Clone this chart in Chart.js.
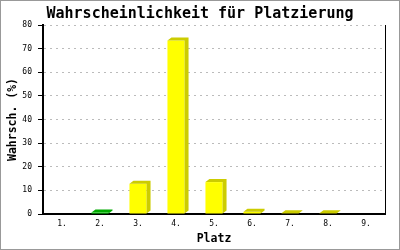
<!DOCTYPE html>
<html>
<head>
<meta charset="utf-8">
<style>
  html, body { margin: 0; padding: 0; background: #fff; }
  #wrap { width: 400px; height: 250px; }
</style>
<script src="https://cdn.jsdelivr.net/npm/chart.js@4/dist/chart.umd.min.js"></script>
</head>
<body>
<div id="wrap"><canvas id="c" width="400" height="250"></canvas></div>
<script>
// Platzierung -> Wahrscheinlichkeit in %
const platz  = ['1.', '2.', '3.', '4.', '5.', '6.', '7.', '8.', '9.'];
const wahrsch = [0, 0.6, 12.8, 73.4, 13.5, 0.9, 0.3, 0.3, 0];
const front  = ['#ffff00', '#00dd00', '#ffff00', '#ffff00', '#ffff00', '#ffff00', '#ffff00', '#ffff00', '#ffff00'];
const dark   = ['#cccc00', '#00aa00', '#cccc00', '#cccc00', '#cccc00', '#cccc00', '#cccc00', '#cccc00', '#cccc00'];

const MONO = "'DejaVu Sans Mono', monospace";

// 3D-Effekt: Seite und Deckel an jeden Balken
const depth = {
  id: 'depth',
  afterDatasetsDraw(chart) {
    const ctx = chart.ctx, dx = 4, dy = 3;
    chart.getDatasetMeta(0).data.forEach((bar, i) => {
      if (!wahrsch[i]) return;
      const l = bar.x - bar.width / 2, r = bar.x + bar.width / 2;
      const t = bar.y, b = bar.base;
      ctx.save();
      ctx.fillStyle = dark[i];
      ctx.beginPath();
      ctx.moveTo(l, t); ctx.lineTo(l + dx, t - dy); ctx.lineTo(r + dx, t - dy);
      ctx.lineTo(r + dx, b - dy); ctx.lineTo(r, b); ctx.lineTo(r, t);
      ctx.closePath();
      ctx.fill();
      ctx.restore();
    });
  },
  afterDraw(chart) {
    const ctx = chart.ctx;
    ctx.save();
    ctx.strokeStyle = '#999';
    ctx.lineWidth = 1;
    ctx.strokeRect(0.5, 0.5, 399, 249);
    ctx.restore();
  }
};

new Chart(document.getElementById('c'), {
  type: 'bar',
  data: {
    labels: platz,
    datasets: [{
      data: wahrsch,
      backgroundColor: front,
      borderWidth: 0,
      barPercentage: 0.45,
      categoryPercentage: 1,
    }],
  },
  options: {
    responsive: false,
    animation: false,
    layout: { padding: 0 },
    plugins: {
      legend: { display: false },
      tooltip: { enabled: false },
      title: {
        display: true,
        text: 'Wahrscheinlichkeit für Platzierung',
        color: '#000',
        font: { family: MONO, size: 15, weight: 'bold' },
        padding: { top: 5, bottom: 2 },
      },
    },
    scales: {
      x: {
        grid: { display: false, drawTicks: false },
        border: { color: '#000', width: 2 },
        ticks: { color: '#000', font: { family: MONO, size: 8 }, padding: 5, maxRotation: 0 },
        title: { display: true, text: 'Platz', color: '#000', font: { family: MONO, size: 11.5, weight: 'bold' }, padding: { top: 1, bottom: 4 } },
        afterFit: s => { s.height = 36; },
      },
      y: {
        min: 0, max: 80,
        ticks: { stepSize: 10, color: '#000', font: { family: MONO, size: 8 }, padding: 6 },
        grid: { color: '#bbbbbb', tickColor: '#000', tickLength: 5, lineWidth: 1 },
        border: { color: '#000', width: 2, dash: [2, 4] },
        title: { display: true, text: 'Wahrsch. (%)', color: '#000', font: { family: MONO, size: 11.5, weight: 'bold' }, padding: { top: 6, bottom: 0 } },
        afterFit: s => { s.width = 43; },
      },
      // rechter Rahmen der Zeichenfläche
      y2: {
        position: 'right',
        min: 0, max: 80,
        grid: { display: false, drawTicks: false },
        border: { color: '#000', width: 1 },
        ticks: { display: false },
        afterFit: s => { s.width = 15; },
      },
    },
  },
  plugins: [depth],
});
</script>
</body>
</html>
